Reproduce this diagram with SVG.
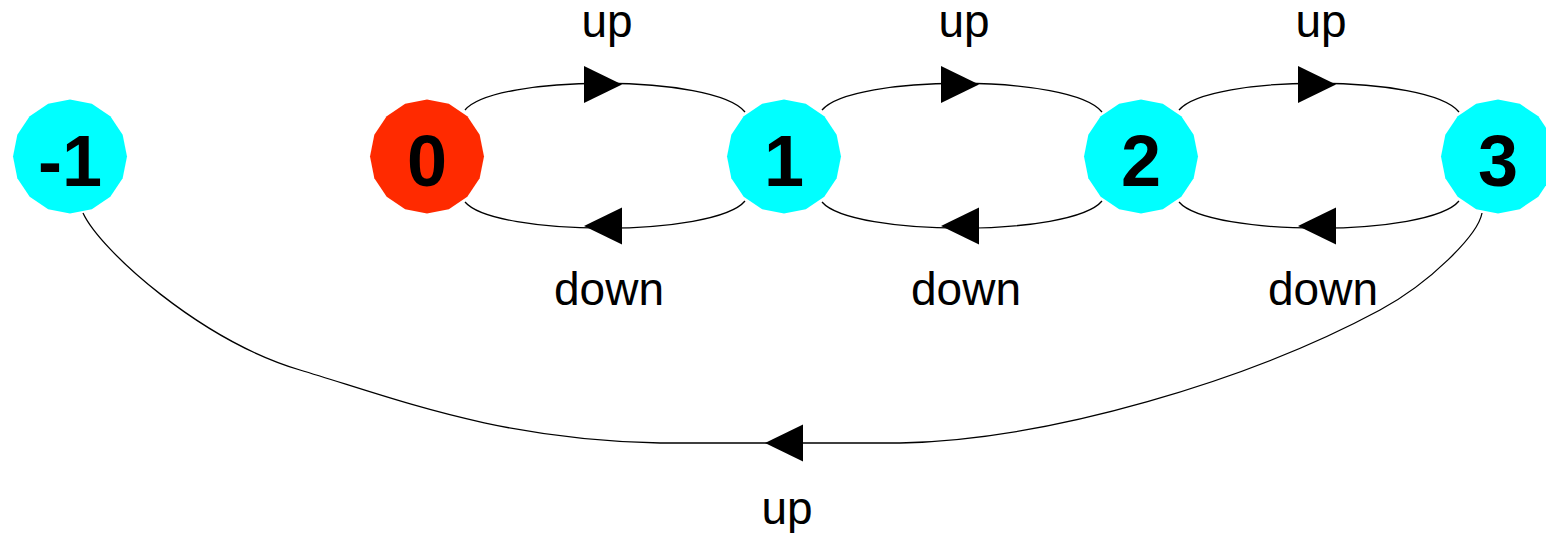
<svg xmlns="http://www.w3.org/2000/svg" xmlns:xlink="http://www.w3.org/1999/xlink" width="1546" height="533" viewBox="0 0 1546 533">
<style>
.edge{fill:none;stroke:#000;stroke-width:1.3}
.arrow{fill:#000}
.lbl{font-family:"Liberation Sans",Arial,sans-serif;font-size:46px;fill:#000;text-anchor:middle}
.nlbl{font-family:"Liberation Sans",Arial,sans-serif;font-size:72px;font-weight:bold;fill:#000;text-anchor:middle}
.cyan{fill:#00ffff}
.red{fill:#ff2a00}
</style>
<defs>
<polygon id="shape" points="57,0 52.66,21.81 40.31,40.31 21.81,52.66 0,57 -21.81,52.66 -40.31,40.31 -52.66,21.81 -57,0 -52.66,-21.81 -40.31,-40.31 -21.81,-52.66 0,-57 21.81,-52.66 40.31,-40.31 52.66,-21.81"/>
<path id="arrR" d="M0,0 L-38,-18.5 L-38,18.5 Z"/>
<path id="arrL" d="M0,0 L38,-18.5 L38,18.5 Z"/>
</defs>
<g id="connectors">
<path class="edge" d="M465,110 C495,74 715,74 745,112"/>
<use href="#arrR" class="arrow" x="622" y="84.5"/>
<path class="edge" d="M745,201 C715,237 495,237 465,202"/>
<use href="#arrL" class="arrow" x="584" y="226"/>
<path class="edge" d="M822,110 C852,74 1072,74 1102,112"/>
<use href="#arrR" class="arrow" x="979" y="84.5"/>
<path class="edge" d="M1102,201 C1072,237 852,237 822,202"/>
<use href="#arrL" class="arrow" x="941" y="226"/>
<path class="edge" d="M1179,110 C1209,74 1429,74 1459,112"/>
<use href="#arrR" class="arrow" x="1336" y="84.5"/>
<path class="edge" d="M1459,201 C1429,237 1209,237 1179,202"/>
<use href="#arrL" class="arrow" x="1298" y="226"/>
<path class="edge" d="M1482,213 C1478,235 1430,283 1380,310 C1250,380 1050,440 900,443 L660,443 C500,440 400,400 300,370 C200,340 100,250 83,213"/>
<use href="#arrL" class="arrow" x="765" y="443"/>
<text class="lbl" x="607" y="37">up</text>
<text class="lbl" x="964" y="37">up</text>
<text class="lbl" x="1321" y="37">up</text>
<text class="lbl" x="609" y="305">down</text>
<text class="lbl" x="966" y="305">down</text>
<text class="lbl" x="1323" y="305">down</text>
<text class="lbl" x="787" y="524">up</text>
</g>
<g id="node-m1"><use href="#shape" class="cyan" x="70" y="156.5"/><text class="nlbl" x="70" y="186">-1</text></g>
<g id="node-0"><use href="#shape" class="red" x="427" y="156.5"/><text class="nlbl" x="427" y="186">0</text></g>
<g id="node-1"><use href="#shape" class="cyan" x="784" y="156.5"/><text class="nlbl" x="784" y="186">1</text></g>
<g id="node-2"><use href="#shape" class="cyan" x="1141" y="156.5"/><text class="nlbl" x="1141" y="186">2</text></g>
<g id="node-3"><use href="#shape" class="cyan" x="1498" y="156.5"/><text class="nlbl" x="1498" y="186">3</text></g>
</svg>
